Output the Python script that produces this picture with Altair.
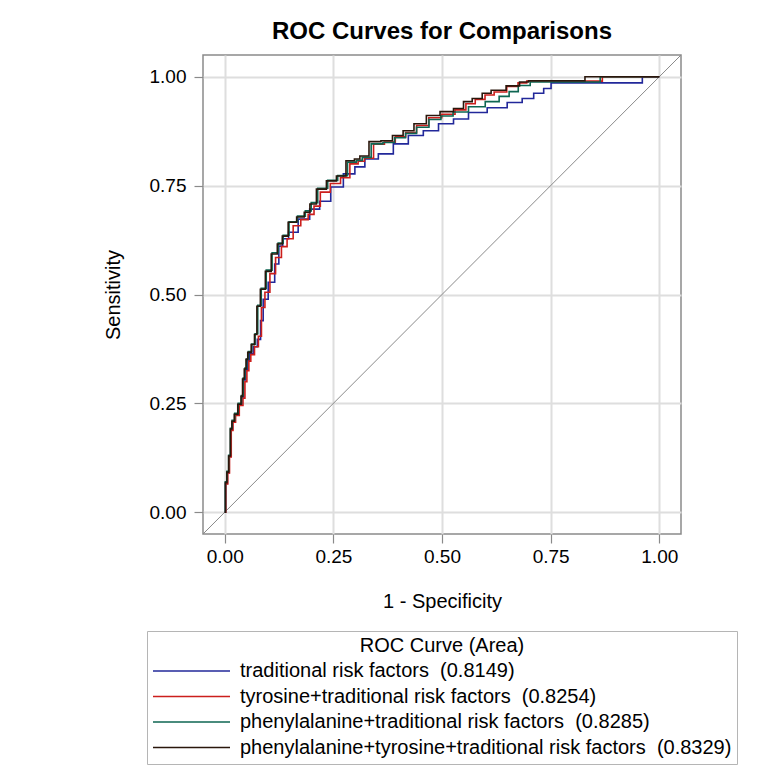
import altair as alt
import pandas as pd

# ---- data ----
series_names = [
    "traditional risk factors\u00a0\u00a0(0.8149)",
    "tyrosine+traditional risk factors\u00a0\u00a0(0.8254)",
    "phenylalanine+traditional risk factors\u00a0\u00a0(0.8285)",
    "phenylalanine+tyrosine+traditional risk factors\u00a0\u00a0(0.8329)",
]
series_colors = ["#22289a", "#cc1f1c", "#0e6652", "#2a170c"]

trad_x = [0, 0.004, 0.008, 0.012, 0.016, 0.020, 0.028, 0.036, 0.043, 0.044, 0.052, 0.053, 0.061, 0.070,
          0.080, 0.085, 0.092, 0.108, 0.122, 0.127, 0.140, 0.154, 0.184, 0.207, 0.230, 0.258, 0.288,
          0.311, 0.334, 0.373, 0.403, 0.442, 0.472, 0.512, 0.541, 0.581, 0.627, 0.673, 0.696, 0.726,
          0.742, 0.760, 0.961, 0.961, 1.0]
trad_y = [0, 0.066, 0.090, 0.128, 0.190, 0.207, 0.224, 0.247, 0.265, 0.304, 0.327, 0.348, 0.364, 0.380,
          0.397, 0.440, 0.489, 0.528, 0.570, 0.611, 0.628, 0.643, 0.673, 0.696, 0.714, 0.747, 0.777,
          0.793, 0.811, 0.823, 0.846, 0.865, 0.876, 0.892, 0.903, 0.918, 0.929, 0.941, 0.950, 0.962,
          0.973, 0.986, 0.986, 1.0, 1.0]

tyr_x = [0, 0.005, 0.009, 0.013, 0.017, 0.021, 0.029, 0.038, 0.046, 0.047, 0.055, 0.056, 0.064, 0.073,
         0.082, 0.087, 0.098, 0.110, 0.124, 0.137, 0.150, 0.165, 0.185, 0.199, 0.212, 0.228, 0.258,
         0.275, 0.301, 0.313, 0.330, 0.355, 0.380, 0.405, 0.428, 0.455, 0.484, 0.515, 0.545, 0.565,
         0.588, 0.610, 0.630, 0.668, 0.682, 0.708, 0.869, 0.869, 1.0]
tyr_y = [0, 0.065, 0.090, 0.127, 0.188, 0.207, 0.222, 0.245, 0.262, 0.300, 0.325, 0.347, 0.362, 0.380,
         0.404, 0.470, 0.505, 0.548, 0.585, 0.610, 0.628, 0.658, 0.672, 0.684, 0.703, 0.735, 0.755,
         0.768, 0.800, 0.806, 0.813, 0.845, 0.850, 0.862, 0.872, 0.888, 0.906, 0.914, 0.924, 0.938,
         0.948, 0.958, 0.965, 0.978, 0.986, 0.990, 0.990, 1.0, 1.0]

phe_x = [0, 0.003, 0.007, 0.011, 0.015, 0.019, 0.027, 0.035, 0.042, 0.043, 0.050, 0.051, 0.058, 0.066,
         0.074, 0.078, 0.090, 0.101, 0.117, 0.129, 0.140, 0.156, 0.179, 0.192, 0.206, 0.222, 0.252,
         0.268, 0.297, 0.309, 0.324, 0.350, 0.378, 0.404, 0.428, 0.455, 0.485, 0.510, 0.541, 0.581,
         0.618, 0.645, 0.664, 0.687, 0.719, 0.864, 0.864, 1.0]
phe_y = [0, 0.070, 0.094, 0.131, 0.193, 0.211, 0.227, 0.250, 0.268, 0.308, 0.331, 0.352, 0.369, 0.386,
         0.410, 0.475, 0.514, 0.556, 0.596, 0.618, 0.636, 0.667, 0.680, 0.692, 0.711, 0.744, 0.762,
         0.773, 0.804, 0.808, 0.815, 0.846, 0.849, 0.860, 0.870, 0.884, 0.902, 0.910, 0.919, 0.931,
         0.943, 0.955, 0.966, 0.980, 0.988, 0.988, 1.0, 1.0]

both_x = [0, 0.003, 0.007, 0.011, 0.015, 0.018, 0.026, 0.034, 0.041, 0.041, 0.049, 0.049, 0.057, 0.065,
          0.072, 0.076, 0.088, 0.099, 0.115, 0.127, 0.138, 0.154, 0.177, 0.189, 0.203, 0.219, 0.249,
          0.265, 0.293, 0.304, 0.318, 0.346, 0.373, 0.399, 0.422, 0.449, 0.479, 0.512, 0.541, 0.558,
          0.581, 0.604, 0.622, 0.673, 0.684, 0.714, 0.829, 0.829, 1.0]
both_y = [0, 0.068, 0.092, 0.129, 0.191, 0.209, 0.225, 0.248, 0.266, 0.306, 0.329, 0.351, 0.367, 0.385,
          0.408, 0.473, 0.512, 0.553, 0.593, 0.616, 0.634, 0.666, 0.678, 0.689, 0.708, 0.742, 0.761,
          0.772, 0.807, 0.811, 0.818, 0.851, 0.853, 0.865, 0.876, 0.892, 0.911, 0.920, 0.927, 0.943,
          0.950, 0.962, 0.969, 0.979, 0.988, 0.991, 0.991, 1.0, 1.0]

diag_vals = [-0.05, 1.05]
tick_vals = [0, 0.25, 0.5, 0.75, 1.0]

# ---- tables ----
rows = []
for name, xs, ys in zip(series_names, [trad_x, tyr_x, phe_x, both_x], [trad_y, tyr_y, phe_y, both_y]):
    for i, (a, b) in enumerate(zip(xs, ys)):
        rows.append({"series": name, "fpr": a, "tpr": b, "i": i})
df = pd.DataFrame(rows)
diag_df = pd.DataFrame({"fpr": diag_vals, "tpr": diag_vals})

FONT = "Liberation Sans"
xscale = alt.Scale(domain=[-0.05, 1.05], nice=False, zero=False)
yscale = alt.Scale(domain=[-0.05, 1.05], nice=False, zero=False)
x_enc = alt.X("fpr:Q", scale=xscale,
              axis=alt.Axis(values=tick_vals, format=".2f", title="1 - Specificity",
                            titlePadding=25, labelPadding=4))
y_enc = alt.Y("tpr:Q", scale=yscale,
              axis=alt.Axis(values=tick_vals, format=".2f", title="Sensitivity",
                            titlePadding=26, labelPadding=8))

legend = alt.Legend(
    title="ROC Curve (Area)", orient="none", legendX=-56, legendY=576, direction="vertical",
    symbolType="stroke", symbolSize=5929, symbolStrokeWidth=1.5, clipHeight=22, rowPadding=3.5,
    labelOffset=9, labelFontSize=20, labelFont=FONT, labelLimit=1000, labelColor="black",
    titleFontSize=20, titleFont=FONT, titleFontWeight="normal", titleColor="black",
    titleAnchor="middle", titlePadding=4, padding=5, strokeColor="#b5b5b5", fillColor="white",
    cornerRadius=0,
)
color_enc = alt.Color("series:N", scale=alt.Scale(domain=series_names, range=series_colors), legend=legend)

diag = alt.Chart(diag_df).mark_line(color="#8a8a8a", strokeWidth=1).encode(x=x_enc, y=y_enc)

layers = [diag]
for name in series_names:
    layers.append(
        alt.Chart(df).transform_filter(alt.datum.series == name)
        .mark_line(interpolate="step", strokeWidth=1.6)
        .encode(x=x_enc, y=y_enc, color=color_enc, order="i:Q")
    )

chart = alt.layer(*layers).properties(
    width=478, height=479,
    background="white",
    title=alt.TitleParams("ROC Curves for Comparisons", fontSize=24, fontWeight="bold", font=FONT,
                          anchor="middle", offset=9, color="black"),
    autosize=alt.AutoSizeParams(type="none"),
    padding={"left": 195, "top": 47, "right": 91, "bottom": 238},
).configure_view(
    stroke="#8a8a8a", strokeWidth=1.5
).configure_axis(
    domain=False, grid=True, gridColor="#dedede", gridWidth=2,
    tickColor="#8a8a8a", tickSize=9, tickWidth=1.2,
    labelFont=FONT, labelFontSize=19, labelColor="black",
    titleFont=FONT, titleFontSize=20, titleFontWeight="normal", titleColor="black",
)

chart.save("out.html", embed_options={"renderer": "svg", "actions": False})
